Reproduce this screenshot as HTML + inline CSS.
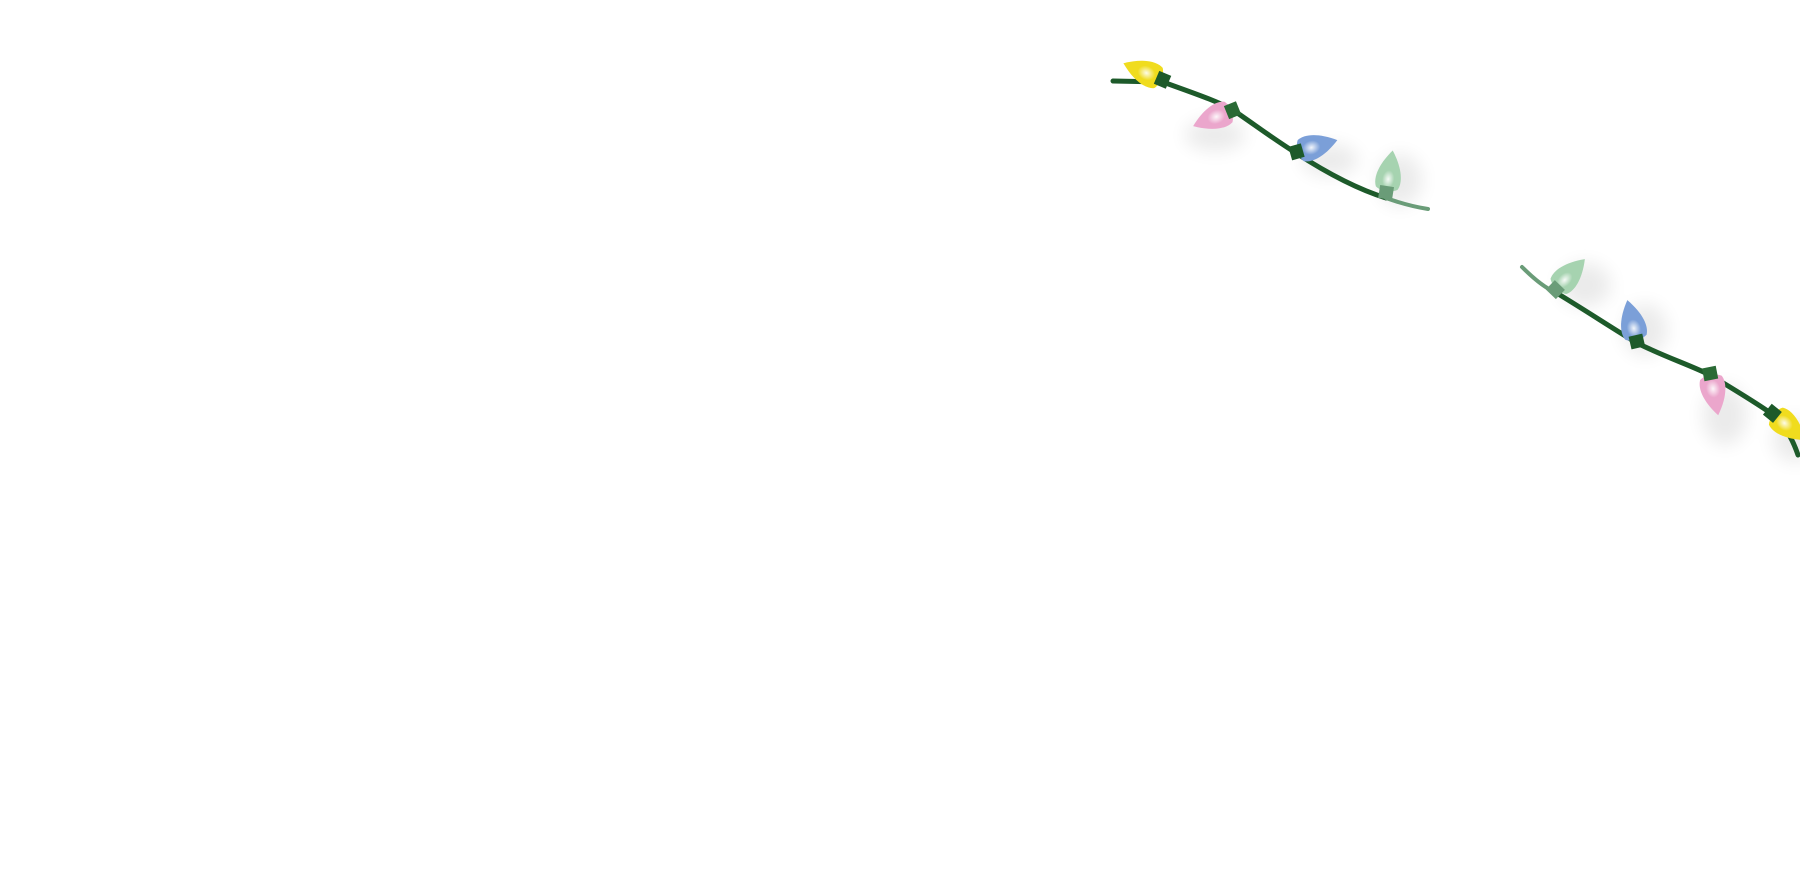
<!DOCTYPE html>
<html><head><meta charset="utf-8"><style>html,body{margin:0;padding:0;background:#fff;width:1800px;height:896px;overflow:hidden}</style></head>
<body>
<svg width="1800" height="896" viewBox="0 0 1800 896" xmlns="http://www.w3.org/2000/svg">
<defs>
<filter id="bl" x="-50%" y="-50%" width="200%" height="200%"><feGaussianBlur stdDeviation="9"/></filter>
<radialGradient id="hl" cx="50%" cy="50%" r="50%"><stop offset="0" stop-color="#fff" stop-opacity="0.9"/><stop offset="1" stop-color="#fff" stop-opacity="0"/></radialGradient>
<symbol id="b" overflow="visible"><path d="M-11,0 C-15,-8 -12,-22 0,-38 C12,-22 15,-8 11,0 C6,4 -6,4 -11,0 Z"/></symbol>
</defs>
<g fill="#000" opacity="0.08" filter="url(#bl)">
<ellipse cx="1215" cy="135" rx="30" ry="16"/><ellipse cx="1330" cy="160" rx="28" ry="16"/><ellipse cx="1400" cy="180" rx="22" ry="26"/>
<ellipse cx="1585" cy="285" rx="26" ry="22"/><ellipse cx="1645" cy="330" rx="22" ry="26"/><ellipse cx="1725" cy="415" rx="22" ry="30"/><ellipse cx="1795" cy="440" rx="22" ry="22"/>
</g>
<g fill="none" stroke-linecap="round">
<path d="M1113,81 L1163,82 C1190,92 1215,100 1233,110 C1255,125 1275,140 1296,153 C1330,175 1360,190 1386,198" stroke="#1d5a2a" stroke-width="5"/>
<path d="M1386,198 C1400,203 1415,207 1428,209" stroke="#6a9c78" stroke-width="4"/>
<path d="M1522,267 C1535,280 1545,288 1555,292" stroke="#6a9c78" stroke-width="4"/>
<path d="M1555,292 C1585,310 1615,330 1637,343 C1665,357 1690,365 1710,375 C1735,390 1755,402 1772,414 C1785,425 1793,440 1798,455" stroke="#1d5a2a" stroke-width="5"/>
</g>
<g>
<g transform="translate(1163,80) rotate(-67)"><use href="#b" transform="translate(0,-5)" fill="#f0dc1e"/><ellipse cx="0" cy="-18" rx="7" ry="9" fill="url(#hl)"/><rect x="-7" y="-7" width="14" height="13" fill="#1d5a2a"/></g>
<g transform="translate(1233,110) rotate(-112)"><use href="#b" transform="translate(0,-5)" fill="#eba6cc"/><ellipse cx="0" cy="-18" rx="7" ry="9" fill="url(#hl)"/><rect x="-7" y="-7" width="14" height="13" fill="#2a6a35"/></g>
<g transform="translate(1296,152) rotate(74)"><use href="#b" transform="translate(0,-5)" fill="#7b9fd8"/><ellipse cx="0" cy="-16" rx="7" ry="9" fill="url(#hl)"/><rect x="-7" y="-7" width="14" height="13" fill="#1d5a2a"/></g>
<g transform="translate(1386,193) rotate(9)"><use href="#b" transform="translate(0,-5)" fill="#a6d3b0"/><ellipse cx="0" cy="-14" rx="6" ry="9" fill="url(#hl)"/><rect x="-7" y="-7" width="14" height="13" fill="#6a9c78"/></g>
<g transform="translate(1555,290) rotate(44)"><use href="#b" transform="translate(0,-5)" fill="#a6d3b0"/><ellipse cx="0" cy="-14" rx="6" ry="9" fill="url(#hl)"/><rect x="-7" y="-7" width="14" height="13" fill="#6a9c78"/></g>
<g transform="translate(1637,342) rotate(-13)"><use href="#b" transform="translate(0,-5)" fill="#7b9fd8"/><ellipse cx="0" cy="-14" rx="7" ry="9" fill="url(#hl)"/><rect x="-7" y="-7" width="14" height="13" fill="#1d5a2a"/></g>
<g transform="translate(1710,373) rotate(169)"><use href="#b" transform="translate(0,-5)" fill="#eba6cc"/><ellipse cx="0" cy="-16" rx="7" ry="9" fill="url(#hl)"/><rect x="-7" y="-7" width="14" height="13" fill="#2a6a35"/></g>
<g transform="translate(1772,413) rotate(129)"><use href="#b" transform="translate(0,-5)" fill="#f0dc1e"/><ellipse cx="0" cy="-16" rx="7" ry="9" fill="url(#hl)"/><rect x="-7" y="-7" width="14" height="13" fill="#1d5a2a"/></g>
</g>
</svg>
</body></html>
